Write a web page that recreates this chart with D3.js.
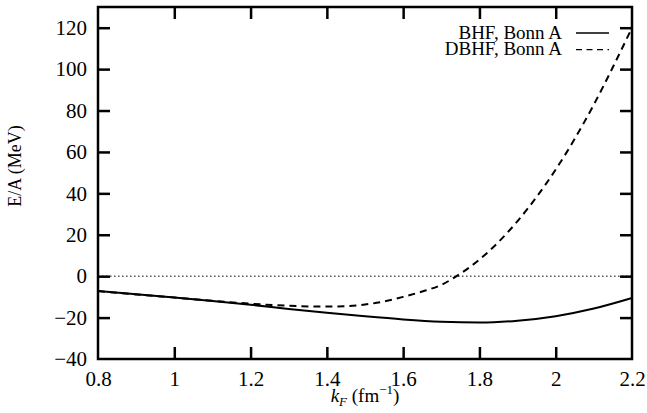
<!DOCTYPE html>
<html>
<head>
<meta charset="utf-8">
<script src="https://cdn.jsdelivr.net/npm/d3@7"></script>
<style>
  body { margin: 0; background: #fff; }
  text { font-family: "Liberation Serif", "DejaVu Serif", serif; fill: #000; }
</style>
</head>
<body>
<svg id="chart" width="647" height="413"></svg>
<script>
// values
const kF = [0.8, 0.9, 1.0, 1.1, 1.2, 1.3, 1.4, 1.5, 1.6, 1.7, 1.8, 1.9, 2.0, 2.1, 2.2];
const bhf = [-7.2, -8.7, -10.3, -12.0, -13.8, -15.8, -17.7, -19.4, -20.9, -22.0, -22.4, -21.5, -19.3, -15.6, -10.5];

const kF_d = [0.8, 0.9, 1.0, 1.1, 1.2, 1.3, 1.4, 1.45, 1.5, 1.55, 1.6, 1.65, 1.7, 1.75, 1.8, 1.85, 1.9, 1.95, 2.0, 2.05, 2.1, 2.15, 2.2];
const dbhf = [-7.2, -8.8, -10.3, -11.9, -13.3, -14.3, -14.7, -14.5, -13.7, -12.2, -10.0, -7.4, -4.2, 1.2, 8.0, 16.5, 26.6, 38.3, 51.5, 66.4, 82.9, 101.0, 120.0];

const xTicks = [0.8, 1, 1.2, 1.4, 1.6, 1.8, 2, 2.2];
const yTicks = [-40, -20, 0, 20, 40, 60, 80, 100, 120];
const legendLabels = ["BHF, Bonn A", "DBHF, Bonn A"];

const svg = d3.select("#chart"),
    width = +svg.attr("width"),
    height = +svg.attr("height");
const margin = { top: 7, right: 15, bottom: 54, left: 98 };
const w = width - margin.left - margin.right,
    h = height - margin.top - margin.bottom;

const g = svg.append("g").attr("transform", `translate(${margin.left},${margin.top})`);

const x = d3.scaleLinear().domain([0.8, 2.2]).range([0, w]);
const y = d3.scaleLinear().domain([-40, 130]).range([h, 0]);

// zero line
g.append("line")
    .attr("x1", 0).attr("x2", w)
    .attr("y1", y(0)).attr("y2", y(0))
    .attr("stroke", "#000").attr("stroke-width", 1)
    .attr("stroke-dasharray", "1.5,2.5");

// axes, ticks pointing inward
const fmt = d => d3.format("")(d);
const axB = g.append("g").attr("transform", `translate(0,${h})`)
    .call(d3.axisBottom(x).tickValues(xTicks).tickFormat(fmt).tickSizeInner(-12).tickSizeOuter(0).tickPadding(12));
const axT = g.append("g")
    .call(d3.axisTop(x).tickValues(xTicks).tickFormat("").tickSizeInner(-12).tickSizeOuter(0));
const axL = g.append("g")
    .call(d3.axisLeft(y).tickValues(yTicks).tickFormat(fmt).tickSizeInner(-12).tickSizeOuter(0).tickPadding(11));
const axR = g.append("g").attr("transform", `translate(${w},0)`)
    .call(d3.axisRight(y).tickValues(yTicks).tickFormat("").tickSizeInner(-12).tickSizeOuter(0));

[axB, axT, axL, axR].forEach(a => {
    a.select(".domain").remove();
    a.selectAll(".tick line").attr("stroke", "#000").attr("stroke-width", 2.5);
    a.selectAll(".tick text").style("font-family", "Liberation Serif, serif").style("font-size", "21px").attr("fill", "#000");
});
// ticks at the ends of the axes sit on the frame edge
axB.selectAll(".tick").filter(d => d === 0.8 || d === 2.2).select("line").remove();
axT.selectAll(".tick").filter(d => d === 0.8 || d === 2.2).select("line").remove();
axL.selectAll(".tick").filter(d => d === -40).select("line").remove();
axR.selectAll(".tick").filter(d => d === -40).select("line").remove();

// curves
const lineB = d3.line().x((d, i) => x(kF[i])).y(d => y(d)).curve(d3.curveMonotoneX);
const lineD = d3.line().x((d, i) => x(kF_d[i])).y(d => y(d)).curve(d3.curveMonotoneX);

g.append("path").datum(bhf)
    .attr("d", lineB).attr("fill", "none")
    .attr("stroke", "#000").attr("stroke-width", 2);
g.append("path").datum(dbhf)
    .attr("d", lineD).attr("fill", "none")
    .attr("stroke", "#000").attr("stroke-width", 2)
    .attr("stroke-dasharray", "7,5");

// frame
g.append("rect")
    .attr("x", 0).attr("y", 0).attr("width", w).attr("height", h)
    .attr("fill", "none").attr("stroke", "#000").attr("stroke-width", 2.5);

// legend
const legend = g.append("g").attr("transform", `translate(${x(2.2)},0)`);
legendLabels.forEach((lab, i) => {
    const ly = 26 + i * 16.6;
    legend.append("text")
        .attr("x", -70).attr("y", ly + 5.5)
        .attr("text-anchor", "end")
        .style("font-size", "19px")
        .text(lab);
    legend.append("line")
        .attr("x1", -56).attr("x2", -23)
        .attr("y1", ly).attr("y2", ly)
        .attr("stroke", "#000").attr("stroke-width", 1.3)
        .attr("stroke-dasharray", i === 1 ? "6,4.5" : null);
});

// axis titles
svg.append("text")
    .attr("transform", `translate(21,166) rotate(-90)`)
    .attr("text-anchor", "middle")
    .style("font-size", "18px")
    .text("E/A (MeV)");

const xt = svg.append("text")
    .attr("x", 365).attr("y", 402)
    .attr("text-anchor", "middle")
    .style("font-size", "19px");
xt.append("tspan").style("font-style", "italic").text("k");
xt.append("tspan").style("font-style", "italic").style("font-size", "13px").attr("dy", 4).text("F");
xt.append("tspan").attr("dy", -4).text(" (fm");
xt.append("tspan").style("font-size", "13px").attr("dy", -8).text("\u22121");
xt.append("tspan").attr("dy", 8).text(")");
</script>
</body>
</html>
